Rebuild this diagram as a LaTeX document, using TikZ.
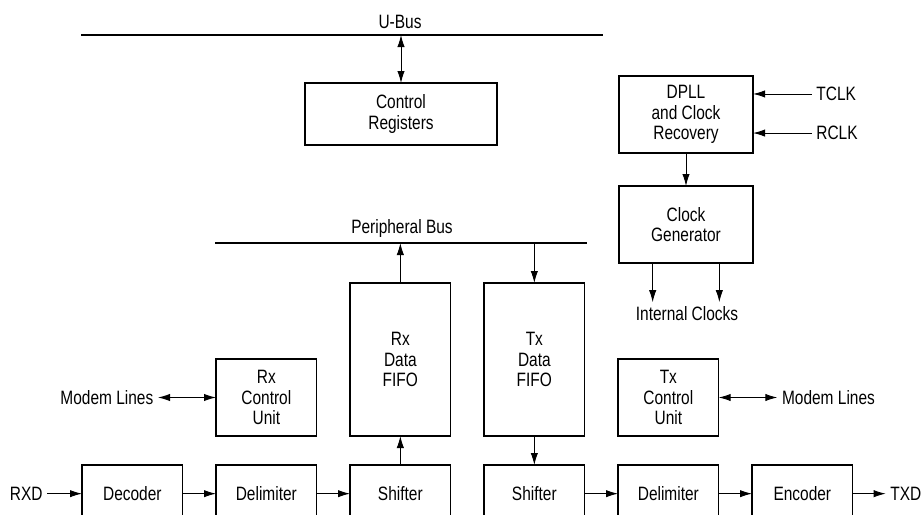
\documentclass[tikz,border=0pt]{standalone}
\usepackage{fontspec}
\setmainfont{Liberation Sans}[FakeStretch=0.8]
\usetikzlibrary{arrows.meta, positioning}

\begin{document}
\begin{tikzpicture}[x=0.75pt, y=-0.75pt, font=\fontsize{14.5}{15.6}\selectfont,
		>={Latex[length=9pt, width=5.5pt]}
	]

	\tikzset{
		blk/.style={
				draw, line width=1.1pt, align=center, inner sep=0pt, outer sep=0pt, minimum width=75.5pt, minimum height=57.75pt
			},
		low/.style={
				blk, minimum height=43pt
			},
		fifo/.style={
				blk, minimum height=114.75pt
			},
		wide/.style={
				blk, minimum width=100.5pt
			},
		bus/.style={
				line width=1.8pt
			},
		sig/.style={
				line width=0.7pt
			},
	}
	\useasboundingbox (0,0) rectangle (924,514);
	\clip (0,0) rectangle (924,514);

	% bottom row
	\node[low, anchor=north west](b1) at (82,465){Decoder};
	\node[low, right=25pt of b1](b2){Delimiter};
	\node[low, right=25pt of b2](b3){Shifter};
	\node[low, right=25pt of b3](b4){Shifter};
	\node[low, right=25pt of b4](b5){Delimiter};
	\node[low, right=25pt of b5](b6){Encoder};

	\node[left=26pt of b1](rxd){RXD};
	\node[right=24.75pt of b6](txd){TXD};

	% fifos and control units
	\node[fifo, above=21.75pt of b3](f1){Rx\\Data\\FIFO};
	\node[fifo, above=21.75pt of b4](f2){Tx\\Data\\FIFO};
	\node[blk, above=21.75pt of b2](c1){Rx\\Control\\Unit};
	\node[blk, above=21.75pt of b5](c2){Tx\\Control\\Unit};

	\node[left=43.5pt of c1](m1){Modem Lines};
	\node[right=44pt of c2](m2){Modem Lines};

	% clocks
	\node[wide, anchor=north west](k1) at (619,76){DPLL\\and Clock\\Recovery};
	\node[wide, below=24.75pt of k1](k2){Clock\\Generator};
	\node[right=44pt of k1.east, yshift=15.4pt](tclk){TCLK};
	\node[right=44pt of k1.east, yshift=-13.9pt](rclk){RCLK};
	\node[](ik) at (687,314){Internal Clocks};

	% buses
	\coordinate(u1) at (81,35);
	\coordinate(u2) at (603,35);
	\node[](ut) at (400,22){U-Bus};
	\coordinate(p1) at (215,243);
	\coordinate(p2) at (587,243);
	\node[](pt) at (402,228){Peripheral Bus};

	\node[blk, minimum width=144pt, minimum height=46.5pt, anchor=north west](r1) at (305,83){Control\\Registers};

	\draw[bus] (u1)--(u2);
	\draw[bus] (p1)--(p2);

	\draw[sig, <->] (r1.north)--(r1.north |- u1);
	\draw[sig, ->] (f1.north)--(f1.north |- p1);
	\draw[sig, ->] (f2.north |- p1)--(f2.north);

	\draw[sig, ->] (rxd)--(b1);
	\draw[sig, ->] (b1)--(b2);
	\draw[sig, ->] (b2)--(b3);
	\draw[sig, ->] (b3)--(f1);
	\draw[sig, ->] (f2)--(b4);
	\draw[sig, ->] (b4)--(b5);
	\draw[sig, ->] (b5)--(b6);
	\draw[sig, ->] (b6)--(txd);

	\draw[sig, <->] (m1)--(c1);
	\draw[sig, <->] (c2)--(m2);

	\draw[sig, ->] (tclk.west)--(tclk.west -| k1.east);
	\draw[sig, ->] (rclk.west)--(rclk.west -| k1.east);
	\draw[sig, ->] (k1)--(k2);
	\draw[sig, ->] ([xshift=-25pt]k2.south)--([xshift=-25pt]k2.south |- ik.north);
	\draw[sig, ->] ([xshift=25pt]k2.south)--([xshift=25pt]k2.south |- ik.north);

\end{tikzpicture}
\end{document}
